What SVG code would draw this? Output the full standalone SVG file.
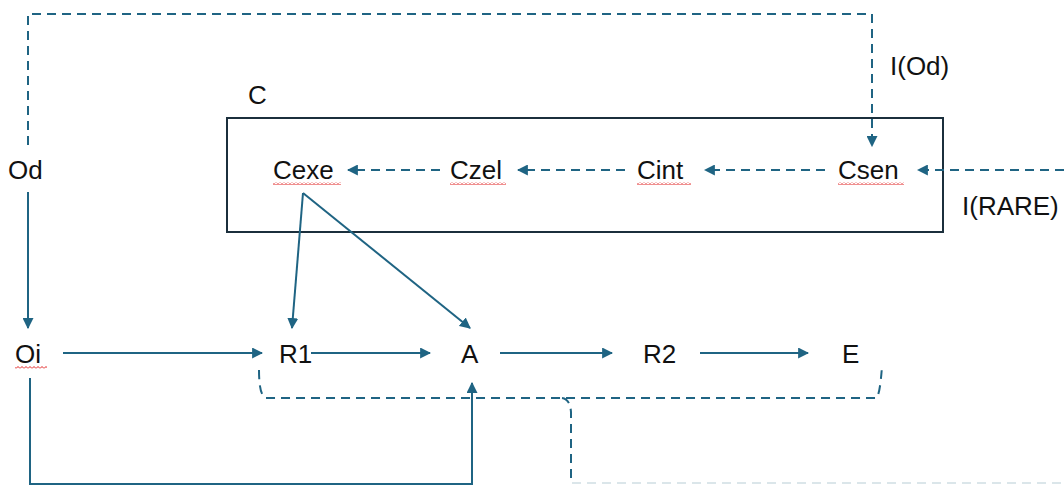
<svg xmlns="http://www.w3.org/2000/svg" width="1064" height="485" viewBox="0 0 1064 485">
<style>
text{font-family:"Liberation Sans",Arial,sans-serif;font-size:26px;fill:#111}
.s{fill:none;stroke:#1f6483;stroke-width:2}
.d{fill:none;stroke:#1f6483;stroke-width:2;stroke-dasharray:9 6}
.sq{fill:url(#wave);stroke:none}
</style>
<defs>
<marker id="ah" viewBox="0 0 10 10" refX="9" refY="5" markerWidth="5.5" markerHeight="5.5" orient="auto" markerUnits="strokeWidth">
<path d="M0,0 L10,5 L0,10 z" fill="#1f6483"/>
</marker>
<pattern id="wave" width="4" height="3" patternUnits="userSpaceOnUse">
<polyline points="0,2.5 2,0.5 4,2.5" fill="none" stroke="#e02020" stroke-width="1"/>
</pattern>
</defs>
<rect width="1064" height="485" fill="#fff"/>
<g id="container-C">
<rect x="227" y="118" width="716" height="114" fill="none" stroke="#1b2f3c" stroke-width="2"/>
<text x="248" y="104">C</text>
</g>
<g id="connectors">
<path class="d" d="M28,145 V14 H872 V146" marker-end="url(#ah)"/>
<path class="s" d="M28,192 V328" marker-end="url(#ah)"/>
<path class="s" d="M303,193 L292,328" marker-end="url(#ah)"/>
<path class="s" d="M303,193 L470,328" marker-end="url(#ah)"/>
<path class="d" d="M440,170 H348" marker-end="url(#ah)"/>
<path class="d" d="M625,170 H518" marker-end="url(#ah)"/>
<path class="d" d="M825,170 H705" marker-end="url(#ah)"/>
<path class="d" d="M1064,170 H918" marker-end="url(#ah)"/>
<path class="s" d="M63,353 H262" marker-end="url(#ah)"/>
<path class="s" d="M311,353 H430" marker-end="url(#ah)"/>
<path class="s" d="M500,353 H612" marker-end="url(#ah)"/>
<path class="s" d="M700,353 H808" marker-end="url(#ah)"/>
<path class="s" d="M30,378 V484 H472 V383" marker-end="url(#ah)"/>
<path class="d" d="M259,370 Q259,396 266,398 H876 Q880,396 882,366"/>
<path class="d" d="M562,398 Q570,399 571,412 V480"/>
<path d="M572,483 H1064" fill="none" stroke="#dbe6ea" stroke-width="2" stroke-dasharray="9 6"/>
</g>
<g id="node-Od"><text x="8" y="179">Od</text></g>
<g id="label-IOd"><text x="890" y="75">I(Od)</text></g>
<g id="label-IRARE"><text x="962" y="215">I(RARE)</text></g>
<g id="node-Cexe"><text x="273" y="179">Cexe</text><rect class="sq" x="273" y="182" width="68" height="3"/></g>
<g id="node-Czel"><text x="450" y="179">Czel</text><rect class="sq" x="450" y="182" width="56" height="3"/></g>
<g id="node-Cint"><text x="637" y="179">Cint</text><rect class="sq" x="637" y="182" width="54" height="3"/></g>
<g id="node-Csen"><text x="838" y="179">Csen</text><rect class="sq" x="838" y="182" width="66" height="3"/></g>
<g id="node-Oi"><text x="15" y="363">Oi</text><rect class="sq" x="15" y="366" width="32" height="3"/></g>
<g id="node-R1"><text x="279" y="363">R1</text></g>
<g id="node-A"><text x="461" y="363">A</text></g>
<g id="node-R2"><text x="643" y="363">R2</text></g>
<g id="node-E"><text x="842" y="363">E</text></g>
</svg>
